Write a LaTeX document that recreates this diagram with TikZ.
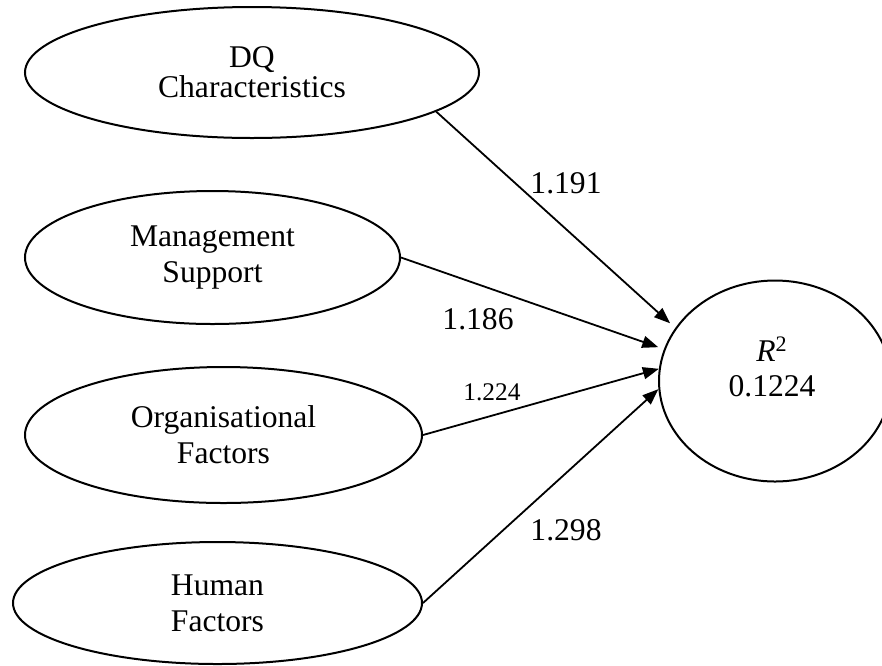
\documentclass[tikz,border=0pt]{standalone}
\usepackage{fontspec}
\setmainfont{Liberation Serif}
\usetikzlibrary{shapes.geometric}
\usetikzlibrary{arrows.meta}

\begin{document}
\begin{tikzpicture}[x=0.5pt, y=-0.5pt,
 factor/.style={draw, ellipse, line width=1pt, inner sep=0, align=center, font=\fontsize{15.8}{18}\selectfont},
 link/.style={line width=0.9pt, -{Triangle[length=8pt, width=6pt]}},
 coef/.style={inner sep=0, font=\fontsize{15.8}{18}\selectfont}]
\useasboundingbox (0,0) rectangle (882,665);
\node[factor, minimum width=227pt, minimum height=65.5pt, font=\fontsize{15.8}{15}\selectfont] (dq) at (252,72.5) {DQ\\Characteristics};
\node[factor, minimum width=187.5pt, minimum height=66.5pt] (mgmt) at (212.5,257.5) {Management\\Support};
\node[factor, minimum width=198.5pt, minimum height=68pt] (org) at (223.5,435) {Organisational\\Factors};
\node[factor, minimum width=204.5pt, minimum height=61pt] (human) at (217.5,603) {Human\\Factors};
\node[factor, minimum width=116pt, minimum height=100.5pt] (r2) at (775,381) {};
\node[coef, align=center, font=\fontsize{15.8}{17.5}\selectfont] (r2lab) at (772,367) {\textit{R}\textsuperscript{2}\\0.1224};
\foreach \src/\ang/\gap in {dq.-12/152/3.5, mgmt.east/164/3, org.east/174/0, human.east/184/0}
 \draw[link, shorten >=\gap pt] (\src) -- (r2.\ang);
\node[coef] (c1) at (566,183) {1.191};
\node[coef] (c2) at (478,319) {1.186};
\node[coef, font=\fontsize{12.7}{14}\selectfont] (c3) at (492,392) {1.224};
\node[coef] (c4) at (566,530) {1.298};
\end{tikzpicture}
\end{document}
